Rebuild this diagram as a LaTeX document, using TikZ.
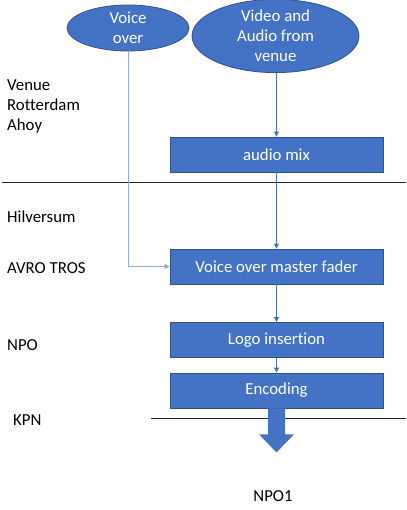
\documentclass[tikz,border=0pt]{standalone}
\usepackage{fontspec}
\setmainfont[Ligatures=NoCommon]{Carlito}
\usetikzlibrary{shapes.geometric,arrows.meta}
\definecolor{boxblue}{HTML}{4472C4}
\definecolor{boxedge}{HTML}{2F528F}
\definecolor{lightline}{HTML}{8FAADC}
\definecolor{sepline}{HTML}{262626}
\tikzset{
  stepbox/.style={draw=boxedge, line width=0.8pt, fill=boxblue, text=white, minimum width=213pt, minimum height=35pt, inner sep=0pt, font=\fontsize{16.8}{20}\selectfont},
  srcell/.style={ellipse, draw=boxedge, line width=0.8pt, fill=boxblue, text=white, inner sep=0pt, align=center, font=\fontsize{16.8}{20}\selectfont},
  lbl/.style={anchor=west, inner sep=0pt, align=left, font=\fontsize{16.8}{20}\selectfont},
  flow/.style={draw=boxblue, line width=0.8pt, -{Triangle[length=5pt,width=5pt]}},
  flowlight/.style={draw=lightline, line width=0.8pt, -{Triangle[length=5pt,width=5pt]}},
  sep/.style={draw=sepline, line width=0.9pt}
}
\begin{document}
\begin{tikzpicture}[x=1pt,y=-1pt]
\useasboundingbox (0,0) rectangle (406,510);
% sources
\node[srcell, minimum width=122pt, minimum height=46pt] (vo) at (128,28) {Voice\\over};
\node[srcell, minimum width=167pt, minimum height=66pt] (vid) at (275.5,36) {Video and\\Audio from\\venue};
% boxes
\node[stepbox] (mix) at (276.5,154.5) {audio mix};
\node[stepbox] (fader) at (276.5,266.5) {Voice over master fader};
\node[stepbox] (logo) at (276.5,340) {Logo insertion};
\node[stepbox] (enc) at (276.5,390.5) {Encoding};
% separators
\coordinate (s1a) at (2,182);
\coordinate (s1b) at (406,182);
\coordinate (s2a) at (151,418);
\coordinate (s2b) at (406,418);
\draw[sep] (s1a) -- (s1b);
\draw[sep] (s2a) -- (s2b);
% left labels
\node[lbl] (venue) at (7,106) {Venue\\Rotterdam\\Ahoy};
\node[lbl] (hil) at (7,217) {Hilversum};
\node[lbl] (avro) at (7,268) {AVRO TROS};
\node[lbl] (npo) at (7,345) {NPO};
\node[lbl] (kpn) at (13,420) {KPN};
\node[inner sep=0pt, font=\fontsize{16.8}{20}\selectfont] (npo1) at (273,496) {NPO1};
% connectors
\draw[flowlight] (vo.south) |- (fader.west);
\draw[flow] (mix.north |- vid.south) -- (mix.north);
\draw[flow] (mix.south) -- (fader.north);
\draw[flow] (fader.south) -- (logo.north);
\draw[flow] (logo.south) -- (enc.north);
% block arrow
\fill[boxblue] ([xshift=-8.5pt]enc.south) -- ++(0,26) -- ++(-9,0) -- ([yshift=-44pt]enc.south) -- ([xshift=17.5pt,yshift=-26pt]enc.south) -- ++(-9,0) -- ([xshift=8.5pt]enc.south) -- cycle;
\end{tikzpicture}
\end{document}
